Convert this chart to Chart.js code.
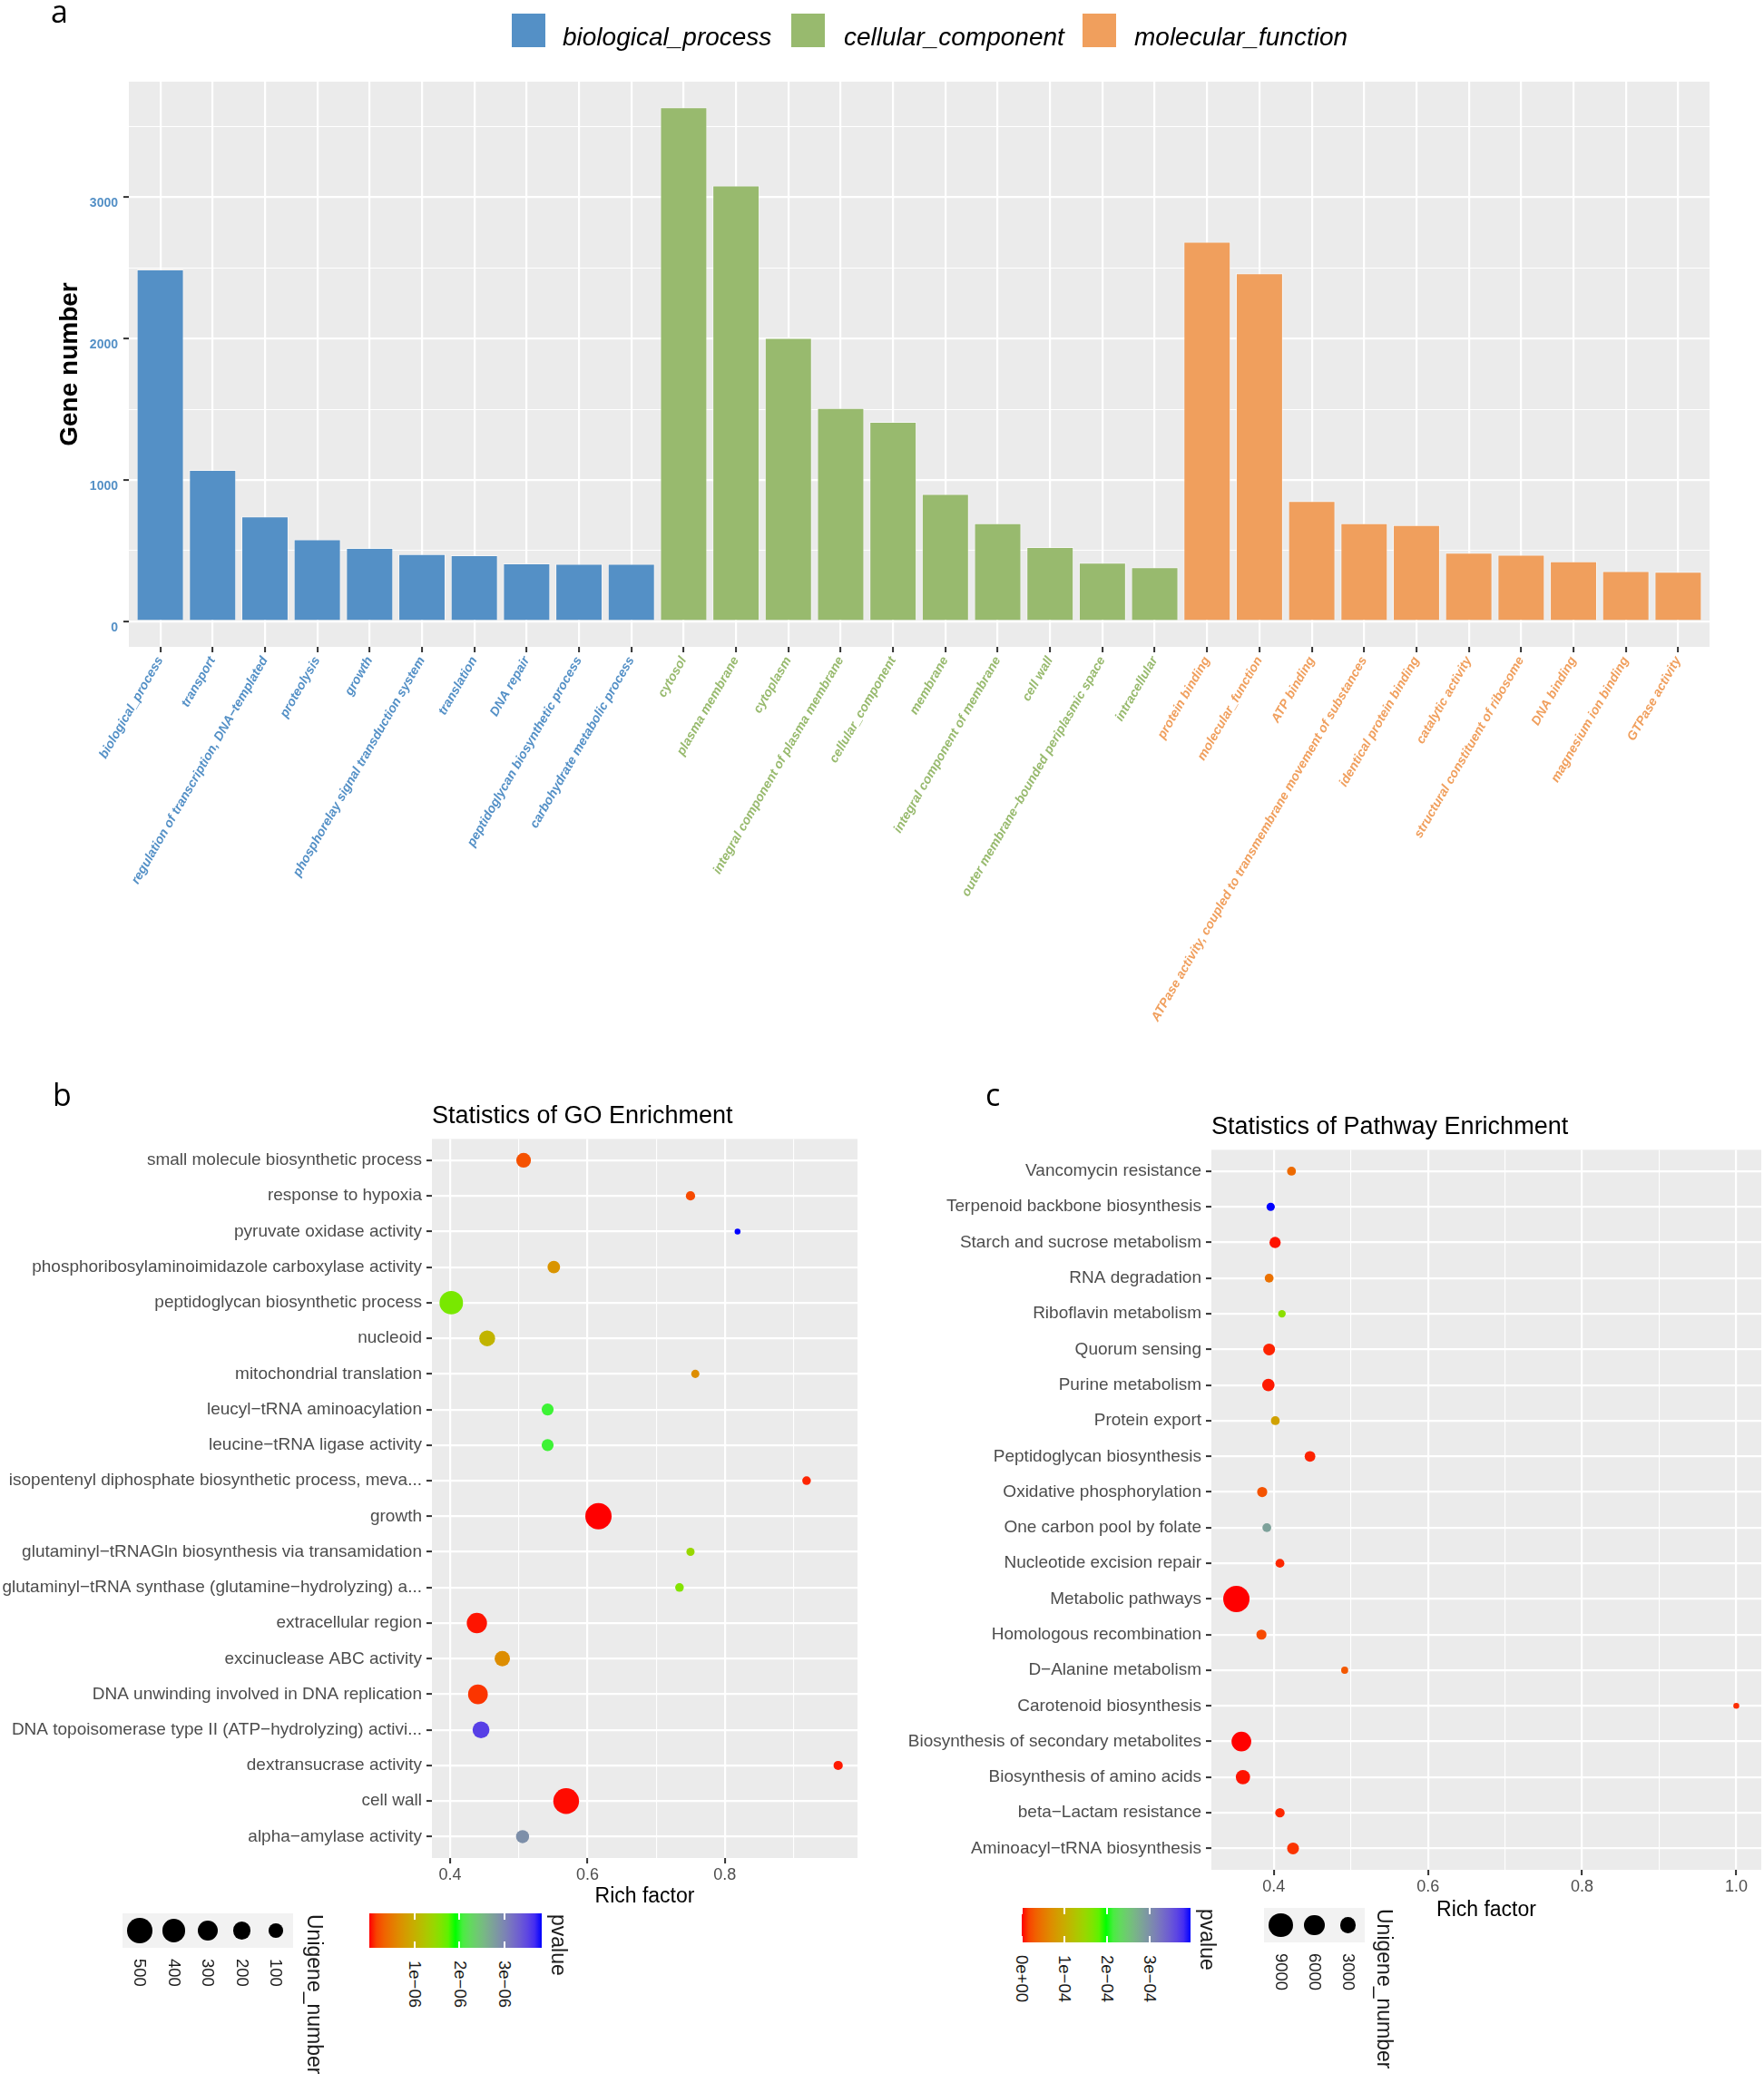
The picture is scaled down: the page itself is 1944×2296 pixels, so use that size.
<!DOCTYPE html>
<html>
<head>
<meta charset="utf-8">
<script src="https://cdn.jsdelivr.net/npm/chart.js@4.4.1/dist/chart.umd.min.js"></script>
<style>
  html, body { margin: 0; padding: 0; background: #fff; }
  body { width: 1944px; height: 2296px; position: relative; overflow: hidden; font-family: "Liberation Sans", Arial, sans-serif; }
  canvas { position: absolute; }
  .tag { position: absolute; font-family: "Open Sans", sans-serif; font-size: 34px; line-height: 1; color: #000; }
</style>
</head>
<body>
<canvas id="chartA" width="1944" height="1150" style="left:0;top:0"></canvas>
<canvas id="chartB" width="960" height="940" style="left:0;top:1180px"></canvas>
<canvas id="chartC" width="984" height="940" style="left:960px;top:1180px"></canvas>
<div class="tag" style="left:56px;top:-5px">a</div>
<div class="tag" style="left:58px;top:1189px">b</div>
<div class="tag" style="left:1086px;top:1189px">c</div>
<script>
// panel a: GO annotation counts
const bpTerms = ["biological_process", "transport", "regulation of transcription, DNA\u2212templated", "proteolysis", "growth",
  "phosphorelay signal transduction system", "translation", "DNA repair", "peptidoglycan biosynthetic process", "carbohydrate metabolic process"];
const bpCounts = [2490, 1071, 741, 579, 518, 475, 467, 409, 406, 406];
const ccTerms = ["cytosol", "plasma membrane", "cytoplasm", "integral component of plasma membrane", "cellular_component",
  "membrane", "integral component of membrane", "cell wall", "outer membrane\u2212bounded periplasmic space", "intracellular"];
const ccCounts = [3637, 3084, 2005, 1508, 1411, 901, 693, 525, 414, 381];
const mfTerms = ["protein binding", "molecular_function", "ATP binding", "ATPase activity, coupled to transmembrane movement of substances",
  "identical protein binding", "catalytic activity", "structural constituent of ribosome", "DNA binding", "magnesium ion binding", "GTPase activity"];
const mfCounts = [2685, 2462, 850, 693, 680, 485, 470, 424, 355, 350];
const groupNames = ["biological_process", "cellular_component", "molecular_function"];
const geneTicks = [0, 1000, 2000, 3000];

// panel b: GO enrichment (top row first)
const goTerms = ["small molecule biosynthetic process", "response to hypoxia", "pyruvate oxidase activity",
  "phosphoribosylaminoimidazole carboxylase activity", "peptidoglycan biosynthetic process", "nucleoid",
  "mitochondrial translation", "leucyl\u2212tRNA aminoacylation", "leucine\u2212tRNA ligase activity",
  "isopentenyl diphosphate biosynthetic process, meva...", "growth", "glutaminyl\u2212tRNAGln biosynthesis via transamidation",
  "glutaminyl\u2212tRNA synthase (glutamine\u2212hydrolyzing) a...", "extracellular region", "excinuclease ABC activity",
  "DNA unwinding involved in DNA replication", "DNA topoisomerase type II (ATP\u2212hydrolyzing) activi...",
  "dextransucrase activity", "cell wall", "alpha\u2212amylase activity"];
const goRich = [0.507, 0.750, 0.8185, 0.551, 0.4017, 0.454, 0.757, 0.542, 0.542, 0.919,
  0.616, 0.750, 0.734, 0.439, 0.476, 0.4405, 0.445, 0.965, 0.569, 0.5055];
const goUnigene = [111, 23, 8, 67, 420, 140, 15, 58, 58, 18, 560, 15, 18, 282, 126, 262, 170, 23, 531, 77];
const goPvalue = [2.3e-7, 1.9e-7, 3.82e-6, 7.3e-7, 1.63e-6, 1.05e-6, 6.7e-7, 2.02e-6, 2.02e-6, 5e-8,
  1e-10, 1.43e-6, 1.57e-6, 2e-8, 6.7e-7, 1e-7, 3.55e-6, 3e-8, 1e-8, 2.9e-6];
const goSizeBreaks = [500, 400, 300, 200, 100];
const goPvalueBreaks = [1e-6, 2e-6, 3e-6];
const goPvalueLabels = ["1e\u221206", "2e\u221206", "3e\u221206"];

// panel c: pathway enrichment (top row first)
const pathTerms = ["Vancomycin resistance", "Terpenoid backbone biosynthesis", "Starch and sucrose metabolism", "RNA degradation",
  "Riboflavin metabolism", "Quorum sensing", "Purine metabolism", "Protein export", "Peptidoglycan biosynthesis",
  "Oxidative phosphorylation", "One carbon pool by folate", "Nucleotide excision repair", "Metabolic pathways",
  "Homologous recombination", "D\u2212Alanine metabolism", "Carotenoid biosynthesis", "Biosynthesis of secondary metabolites",
  "Biosynthesis of amino acids", "beta\u2212Lactam resistance", "Aminoacyl\u2212tRNA biosynthesis"];
const pathRich = [0.423, 0.396, 0.4017, 0.394, 0.4106, 0.394, 0.393, 0.402, 0.447, 0.385,
  0.391, 0.408, 0.3515, 0.384, 0.492, 1.0, 0.358, 0.360, 0.408, 0.425];
const pathUnigene = [272, 184, 841, 272, 105, 1026, 1231, 272, 675, 527, 272, 272, 11900, 527, 58, 20, 5450, 2048, 379, 1026];
const pathPvalue = [4e-5, 3.96e-4, 2e-6, 4.5e-5, 1.58e-4, 5e-6, 3e-6, 8.9e-5, 5e-6, 2.5e-5,
  2.85e-4, 6e-6, 0, 2e-5, 2.8e-5, 8e-6, 1e-7, 2e-6, 6e-6, 1e-5];
const pathSizeBreaks = [9000, 6000, 3000];
const pathPvalueBreaks = [0, 1e-4, 2e-4, 3e-4];
const pathPvalueLabels = ["0e+00", "1e\u221204", "2e\u221204", "3e\u221204"];

const bpColor = "#5490C6", ccColor = "#98BA6E", mfColor = "#F09F5D";
const axisGrey = "#4D4D4D", tickDark = "#333333";
Chart.defaults.font.family = '"Liberation Sans", Arial, sans-serif';

// grey panel behind the grid, like ggplot
const panelBg = {
  id: "panelBg",
  beforeDraw(chart) {
    const { ctx, chartArea: a } = chart;
    ctx.save();
    ctx.fillStyle = "#EBEBEB";
    ctx.fillRect(a.left, a.top, a.right - a.left, a.bottom - a.top);
    ctx.restore();
  }
};

// colour ramp red -> green -> blue interpolated in CIELAB
function toLinear(c) { c /= 255; return c <= 0.04045 ? c / 12.92 : Math.pow((c + 0.055) / 1.055, 2.4); }
function fromLinear(c) {
  c = c <= 0.0031308 ? 12.92 * c : 1.055 * Math.pow(c, 1 / 2.4) - 0.055;
  return Math.round(Math.max(0, Math.min(1, c)) * 255);
}
function rgbToLab(rgb) {
  const r = toLinear(rgb[0]), g = toLinear(rgb[1]), b = toLinear(rgb[2]);
  const x = (0.4124 * r + 0.3576 * g + 0.1805 * b) / 0.95047;
  const y = 0.2126 * r + 0.7152 * g + 0.0722 * b;
  const z = (0.0193 * r + 0.1192 * g + 0.9505 * b) / 1.08883;
  const f = t => t > 0.008856 ? Math.cbrt(t) : 7.787 * t + 16 / 116;
  return [116 * f(y) - 16, 500 * (f(x) - f(y)), 200 * (f(y) - f(z))];
}
function labToRgb(lab) {
  const fy = (lab[0] + 16) / 116, fx = fy + lab[1] / 500, fz = fy - lab[2] / 200;
  const inv = t => t * t * t > 0.008856 ? t * t * t : (t - 16 / 116) / 7.787;
  const x = inv(fx) * 0.95047, y = inv(fy), z = inv(fz) * 1.08883;
  return [
    fromLinear(3.2406 * x - 1.5372 * y - 0.4986 * z),
    fromLinear(-0.9689 * x + 1.8758 * y + 0.0415 * z),
    fromLinear(0.0557 * x - 0.2040 * y + 1.0570 * z)
  ];
}
const rampLab = [[255, 0, 0], [0, 255, 0], [0, 0, 255]].map(rgbToLab);
function ramp(t) {
  t = Math.max(0, Math.min(1, t));
  const seg = t * (rampLab.length - 1);
  const i = Math.min(Math.floor(seg), rampLab.length - 2);
  const u = seg - i;
  const a = rampLab[i], b = rampLab[i + 1];
  const c = labToRgb([0, 1, 2].map(k => a[k] + (b[k] - a[k]) * u));
  return `rgb(${c[0]},${c[1]},${c[2]})`;
}
function colourScale(values) {
  const lo = Math.min(...values), hi = Math.max(...values);
  return { lo, hi, map: p => ramp((p - lo) / (hi - lo)) };
}
// point size: area scaled between the smallest and largest count
function sizeScale(values) {
  const lo = Math.min(...values), hi = Math.max(...values);
  return n => (6.5 + 22.5 * Math.sqrt(Math.max(0, (n - lo) / (hi - lo)))) / 2;
}

// ---------- panel a ----------
const allTerms = bpTerms.concat(ccTerms, mfTerms);
const termColors = bpTerms.map(() => bpColor).concat(ccTerms.map(() => ccColor), mfTerms.map(() => mfColor));
const maxCount = Math.max(...bpCounts, ...ccCounts, ...mfCounts);

function groupDataset(label, counts, offset, color) {
  return {
    label,
    data: counts.map((v, i) => ({ x: offset + i + 1, y: v })),
    backgroundColor: color,
    borderColor: "rgba(255,255,255,0.55)",
    borderWidth: 1,
    grouped: false,
    categoryPercentage: 1,
    barPercentage: 0.9
  };
}

new Chart(document.getElementById("chartA"), {
  type: "bar",
  data: {
    datasets: [
      groupDataset(groupNames[0], bpCounts, 0, bpColor),
      groupDataset(groupNames[1], ccCounts, bpCounts.length, ccColor),
      groupDataset(groupNames[2], mfCounts, bpCounts.length + ccCounts.length, mfColor)
    ]
  },
  options: {
    responsive: false,
    animation: false,
    layout: { autoPadding: false, padding: { top: 90, right: 60, left: 0, bottom: 0 } },
    plugins: { legend: { display: false }, tooltip: { enabled: false } },
    scales: {
      x: {
        type: "linear",
        offset: false,
        min: 0.4,
        max: allTerms.length + 0.6,
        afterBuildTicks: s => { s.ticks = allTerms.map((_, i) => ({ value: i + 1 })); },
        afterFit: s => { s.height = 437; s.paddingLeft = 0; s.paddingRight = 0; },
        border: { display: false },
        grid: { offset: false, color: "#FFFFFF", lineWidth: 2.2, tickColor: tickDark, tickLength: 6, tickWidth: 2 },
        ticks: {
          autoSkip: false,
          minRotation: 60,
          maxRotation: 60,
          padding: 2,
          color: c => termColors[c.index],
          font: { size: 14, style: "italic", weight: "bold" },
          callback: v => allTerms[Math.round(v) - 1]
        }
      },
      y: {
        min: -0.05 * maxCount,
        max: 1.05 * maxCount,
        afterBuildTicks: s => {
          const t = [];
          for (let v = 0; v <= s.max; v += 500) t.push({ value: v });
          s.ticks = t;
        },
        afterFit: s => { s.width = 142; },
        border: { display: false },
        grid: {
          color: "#FFFFFF",
          lineWidth: c => (c.tick && geneTicks.includes(c.tick.value)) ? 2.2 : 1.1,
          tickColor: c => (c.tick && geneTicks.includes(c.tick.value)) ? tickDark : "rgba(0,0,0,0)",
          tickLength: 6,
          tickWidth: 2
        },
        ticks: {
          padding: 6,
          labelOffset: 7,
          color: bpColor,
          font: { size: 14, weight: "bold" },
          callback: v => geneTicks.includes(v) ? String(v) : ""
        },
        title: { display: true, text: "Gene number", color: "#000", font: { size: 28, weight: "bold" }, padding: { top: 60 } }
      }
    }
  },
  plugins: [panelBg]
});

// ---------- panels b and c ----------
function richGrid(lo, hi) {
  const out = [];
  for (let k = Math.ceil(lo * 10 - 1e-9); k <= Math.floor(hi * 10 + 1e-9); k++) out.push(k / 10);
  return out;
}
const isMajor = v => Math.abs(Math.round(v * 10) % 2) === 0;

function bubbleChart(canvasId, title, terms, rich, unigene, pvalue, box) {
  const n = terms.length;
  const rLo = Math.min(...rich), rHi = Math.max(...rich);
  const xMin = rLo - 0.05 * (rHi - rLo), xMax = rHi + 0.05 * (rHi - rLo);
  const grid = richGrid(xMin, xMax);
  const radius = sizeScale(unigene);
  const colour = colourScale(pvalue);
  return new Chart(document.getElementById(canvasId), {
    type: "bubble",
    data: {
      datasets: [{
        data: terms.map((t, i) => ({ x: rich[i], y: n - i, r: radius(unigene[i]) })),
        backgroundColor: pvalue.map(colour.map),
        borderWidth: 0,
        hoverBorderWidth: 0,
        hoverRadius: 0,
        clip: false
      }]
    },
    options: {
      responsive: false,
      animation: false,
      layout: { autoPadding: false, padding: { top: box.top, right: box.right, left: 0, bottom: 0 } },
      plugins: {
        legend: { display: false },
        tooltip: { enabled: false },
        title: {
          display: true, text: title, align: "start", fullSize: false, color: "#000",
          font: { size: 27, weight: "normal" }, padding: { top: box.titleTop, bottom: box.titleGap }
        }
      },
      scales: {
        x: {
          type: "linear",
          offset: false,
          min: xMin,
          max: xMax,
          afterBuildTicks: s => { s.ticks = grid.map(v => ({ value: v })); },
          afterFit: s => { s.height = box.xHeight; s.paddingLeft = 0; s.paddingRight = 0; },
          border: { display: false },
          grid: {
            offset: false,
            color: "#FFFFFF",
            lineWidth: c => (c.tick && isMajor(c.tick.value)) ? 2.2 : 1.1,
            tickColor: c => (c.tick && isMajor(c.tick.value)) ? tickDark : "rgba(0,0,0,0)",
            tickLength: 6,
            tickWidth: 2
          },
          ticks: {
            padding: 2,
            color: axisGrey,
            font: { size: 18 },
            callback: v => isMajor(v) ? v.toFixed(1) : ""
          },
          title: { display: true, text: "Rich factor", color: "#000", font: { size: 23 }, padding: { bottom: box.titleBottom } }
        },
        y: {
          type: "linear",
          offset: false,
          min: 0.4,
          max: n + 0.6,
          afterBuildTicks: s => { s.ticks = terms.map((_, i) => ({ value: i + 1 })); },
          afterFit: s => { s.width = box.yWidth; s.paddingTop = 0; s.paddingBottom = 0; },
          border: { display: false },
          grid: { offset: false, color: "#FFFFFF", lineWidth: 2.2, tickColor: tickDark, tickLength: 6, tickWidth: 2 },
          ticks: {
            autoSkip: false,
            padding: 5,
            color: axisGrey,
            font: { size: 19 },
            callback: v => terms[n - Math.round(v)]
          }
        }
      }
    },
    plugins: [panelBg]
  });
}

bubbleChart("chartB", "Statistics of GO Enrichment", goTerms, goRich, goUnigene, goPvalue,
  { top: 30, right: 15, titleTop: 4, titleGap: 9, xHeight: 72, titleBottom: 16, yWidth: 476 });
bubbleChart("chartC", "Statistics of Pathway Enrichment", pathTerms, pathRich, pathUnigene, pathPvalue,
  { top: 45, right: 3, titleTop: 1, titleGap: 9, xHeight: 59, titleBottom: 1, yWidth: 375 });

// ---------- legends (HTML) ----------
function addDiv(css, text) {
  const d = document.createElement("div");
  d.style.cssText = "position:absolute;" + css;
  if (text != null) d.textContent = text;
  document.body.appendChild(d);
  return d;
}
function sideText(text, cx, top, size) {
  addDiv(`left:${cx}px;top:${top}px;transform:translateX(-50%);writing-mode:vertical-rl;` +
    `font-size:${size}px;line-height:1.1;white-space:nowrap;color:#1A1A1A;`, text);
}

// panel a legend
const legendX = [[564, 620], [872, 930], [1193, 1250]];
[bpColor, ccColor, mfColor].forEach((c, i) => {
  addDiv(`left:${legendX[i][0]}px;top:15px;width:37px;height:37px;background:${c};`);
  addDiv(`left:${legendX[i][1]}px;top:27px;font-size:28px;font-style:italic;line-height:1;color:#000;white-space:nowrap;`, groupNames[i]);
});

function sizeLegend(values, breaks, x0, y0, keyW, titleX) {
  const radius = sizeScale(values);
  addDiv(`left:${x0}px;top:${y0}px;width:${keyW * breaks.length}px;height:38px;background:#F2F2F2;`);
  breaks.forEach((b, i) => {
    const cx = x0 + keyW * (i + 0.5), r = radius(b);
    addDiv(`left:${cx - r}px;top:${y0 + 19 - r}px;width:${2 * r}px;height:${2 * r}px;border-radius:50%;background:#000;`);
    sideText(String(b), cx, y0 + 50, 18.5);
  });
  sideText("Unigene_number", titleX, y0 + 1, 23);
}
function colourLegend(values, breaks, labels, x0, y0, width, titleX) {
  const sc = colourScale(values);
  const stops = [];
  for (let k = 0; k <= 24; k++) stops.push(`${ramp(k / 24)} ${(k / 24 * 100).toFixed(1)}%`);
  addDiv(`left:${x0}px;top:${y0}px;width:${width}px;height:38px;background:linear-gradient(to right, ${stops.join(",")});`);
  breaks.forEach((b, i) => {
    const x = x0 + (b - sc.lo) / (sc.hi - sc.lo) * width;
    addDiv(`left:${x - 1}px;top:${y0}px;width:2px;height:7px;background:#fff;`);
    addDiv(`left:${x - 1}px;top:${y0 + 31}px;width:2px;height:7px;background:#fff;`);
    sideText(labels[i], x, y0 + 52, 18.5);
  });
  sideText("pvalue", titleX, y0 + 1, 23);
}

sizeLegend(goUnigene, goSizeBreaks, 135, 2109, 37.6, 346);
colourLegend(goPvalue, goPvalueBreaks, goPvalueLabels, 407, 2109, 190, 615);
colourLegend(pathPvalue, pathPvalueBreaks, pathPvalueLabels, 1126, 2103, 186, 1330);
sizeLegend(pathUnigene, pathSizeBreaks, 1393, 2103, 37, 1525);
</script>
</body>
</html>
